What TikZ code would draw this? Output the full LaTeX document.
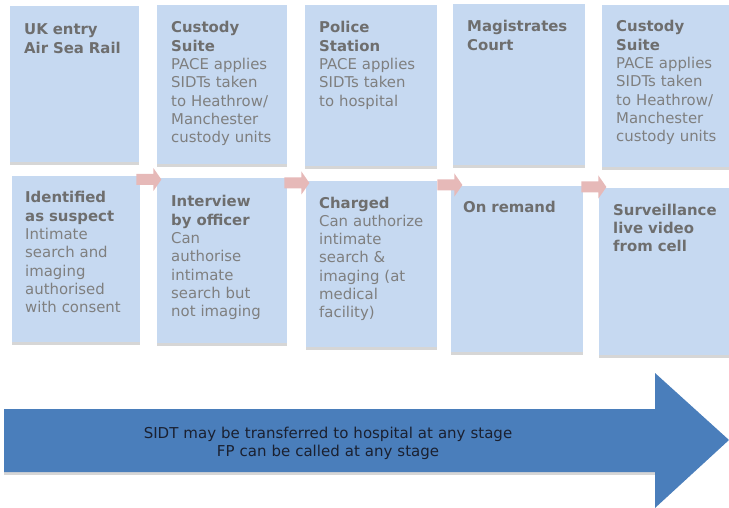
\documentclass[tikz,border=0pt]{standalone}
\usepackage{fontspec}
\setmainfont{DejaVu Sans}
\usetikzlibrary{shadows}
\definecolor{boxfill}{HTML}{C6D9F1}
\definecolor{bodytxt}{HTML}{7F7F7F}
\definecolor{headtxt}{HTML}{6E6E6E}
\definecolor{pinkarrow}{HTML}{E6B9B8}
\definecolor{bluearrow}{HTML}{4A7EBB}
\definecolor{arrowtxt}{HTML}{1A2030}
\newcommand\stagehead[1]{{\color{headtxt}\bfseries #1}}
\begin{document}
\begin{tikzpicture}[x=1pt,y=-1pt,
  stagebox/.style={fill=boxfill, draw=none, anchor=north west, inner sep=0pt,
    drop shadow={shadow xshift=0pt, shadow yshift=-2.5pt, fill=black!16, opacity=1}},
  stagetxt/.style={anchor=base west, inner sep=0pt, text width=130pt, align=left,
    text=bodytxt, font=\fontsize{14.9}{18.3}\selectfont},
  flowarrow/.pic={\fill[pinkarrow] (0,-5.5) -- (17,-5.5) -- (17,-11.5) -- (25,0) -- (17,11.5) -- (17,5.5) -- (0,5.5) -- cycle;},
  notetxt/.style={anchor=base, inner sep=0pt, text width=420pt, align=center,
    text=arrowtxt, font=\fontsize{15}{18}\selectfont}]
\useasboundingbox (0,0) rectangle (729,508);

% top row
\node[stagebox, minimum width=129pt, minimum height=156pt] (t1) at (10,6) {};
\node[stagebox, minimum width=130pt, minimum height=159pt] (t2) at (157,5) {};
\node[stagebox, minimum width=132pt, minimum height=161pt] (t3) at (305,5) {};
\node[stagebox, minimum width=132pt, minimum height=161pt] (t4) at (453,4) {};
\node[stagebox, minimum width=132pt, minimum height=162pt] (t5) at (602,5) {};

% bottom row
\node[stagebox, minimum width=128pt, minimum height=166pt] (b1) at (12,176) {};
\node[stagebox, minimum width=130pt, minimum height=165pt] (b2) at (157,178) {};
\node[stagebox, minimum width=131pt, minimum height=166pt] (b3) at (306,181) {};
\node[stagebox, minimum width=132pt, minimum height=166pt] (b4) at (451,186) {};
\node[stagebox, minimum width=135pt, minimum height=167pt] (b5) at (599,188) {};

% texts top
\node[stagetxt] (t1txt) at ([shift={(14,29)}]t1.north west) {\stagehead{UK entry\\Air Sea Rail}};
\node[stagetxt] (t2txt) at ([shift={(14,28)}]t2.north west) {\stagehead{Custody\\Suite}\\PACE applies\\SIDTs taken\\to Heathrow/\\Manchester\\custody units};
\node[stagetxt] (t3txt) at ([shift={(14,28)}]t3.north west) {\stagehead{Police\\Station}\\PACE applies\\SIDTs taken\\to hospital};
\node[stagetxt] (t4txt) at ([shift={(14,28)}]t4.north west) {\stagehead{Magistrates\\Court}};
\node[stagetxt] (t5txt) at ([shift={(14,27)}]t5.north west) {\stagehead{Custody\\Suite}\\PACE applies\\SIDTs taken\\to Heathrow/\\Manchester\\custody units};

% texts bottom
\node[stagetxt] (b1txt) at ([shift={(13,27)}]b1.north west) {\stagehead{Identified\\as suspect}\\Intimate\\search and\\imaging\\authorised\\with consent};
\node[stagetxt] (b2txt) at ([shift={(14,29)}]b2.north west) {\stagehead{Interview\\by officer}\\Can\\authorise\\intimate\\search but\\not imaging};
\node[stagetxt] (b3txt) at ([shift={(13,27)}]b3.north west) {\stagehead{Charged}\\Can authorize\\intimate\\search \&\\imaging (at\\medical\\facility)};
\node[stagetxt] (b4txt) at ([shift={(12,27)}]b4.north west) {\stagehead{On remand}};
\node[stagetxt] (b5txt) at ([shift={(14,27)}]b5.north west) {\stagehead{Surveillance\\live video\\from cell}};

% pink flow arrows
\path ([shift={(-4,3.5)}]b1.north east) pic {flowarrow};
\path ([shift={(-3,5)}]b2.north east) pic {flowarrow};
\path ([shift={(0,4)}]b3.north east) pic {flowarrow};
\path ([shift={(-2,1)}]b4.north east) pic {flowarrow};

% big blue arrow
\fill[black!16] (4,472) rectangle (655,475);
\fill[bluearrow] (4,409) -- (655,409) -- (655,373) -- (729,440) -- (655,508) -- (655,472) -- (4,472) -- cycle;
\node[notetxt] (note) at (328,438) {SIDT may be transferred to hospital at any stage\\FP can be called at any stage};
\end{tikzpicture}
\end{document}
